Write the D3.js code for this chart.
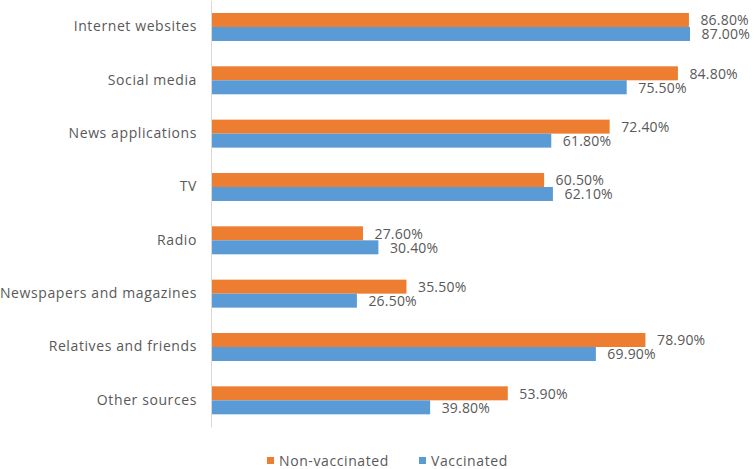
<!DOCTYPE html>
<html><head><meta charset="utf-8">
<script src="https://cdn.jsdelivr.net/npm/d3@7"></script>
<style>body{margin:0;background:#fff}svg{display:block}text{font-family:"Open Sans",sans-serif;fill:#595959}</style>
</head><body><svg id="c" width="755" height="469"></svg>
<script>
const categories = ["Internet websites","Social media","News applications","TV","Radio","Newspapers and magazines","Relatives and friends","Other sources"];
const seriesNames = ["Non-vaccinated","Vaccinated"];
const nonVaccinated = [86.8,84.8,72.4,60.5,27.6,35.5,78.9,53.9];
const vaccinated = [87.0,75.5,61.8,62.1,30.4,26.5,69.9,39.8];
const colors = ["#ED7D31","#5B9BD5"];

const svg = d3.select("#c");
const x = d3.scaleLinear().domain([0,100]).range([211,761.6]);
const y = d3.scaleBand().domain(categories).range([0.3,427]).paddingInner(0.475).paddingOuter(0.2375);
const sub = d3.scaleBand().domain(seriesNames).range([0,y.bandwidth()]);

const data = categories.map((c,i)=>({c, vals:[nonVaccinated[i],vaccinated[i]]}));
const g = svg.append("g");
data.forEach(d=>{
  d.vals.forEach((v,j)=>{
    const yy = y(d.c)+sub(seriesNames[j]);
    g.append("rect").attr("x",x(0)).attr("y",yy).attr("width",x(v)-x(0)).attr("height",sub.bandwidth()).attr("fill",colors[j]);
    g.append("text").attr("x",x(v)+11.5).attr("y",yy+sub.bandwidth()/2+0.5).attr("dy","0.35em").attr("font-size",14).attr("letter-spacing",0.2).text(v.toFixed(2)+"%");
  });
});
// axis
const ax = d3.axisLeft(y).tickSize(0).tickPadding(14);
const axg = svg.append("g").attr("transform",`translate(${x(0)},0)`).call(ax);
axg.select(".domain").attr("stroke","#d9d9d9");
axg.selectAll("text").attr("font-size",14).attr("letter-spacing",0.6).style("font-family",'"Open Sans",sans-serif').attr("fill","#595959");

// legend
const leg = [{n:"Non-vaccinated",x:267},{n:"Vaccinated",x:419}];
leg.forEach((l,i)=>{
  svg.append("rect").attr("x",l.x).attr("y",457).attr("width",7).attr("height",7).attr("fill",colors[i]);
  svg.append("text").attr("x",l.x+12).attr("y",461).attr("dy","0.35em").attr("font-size",14).attr("letter-spacing",0.6).text(l.n);
});
</script></body></html>
